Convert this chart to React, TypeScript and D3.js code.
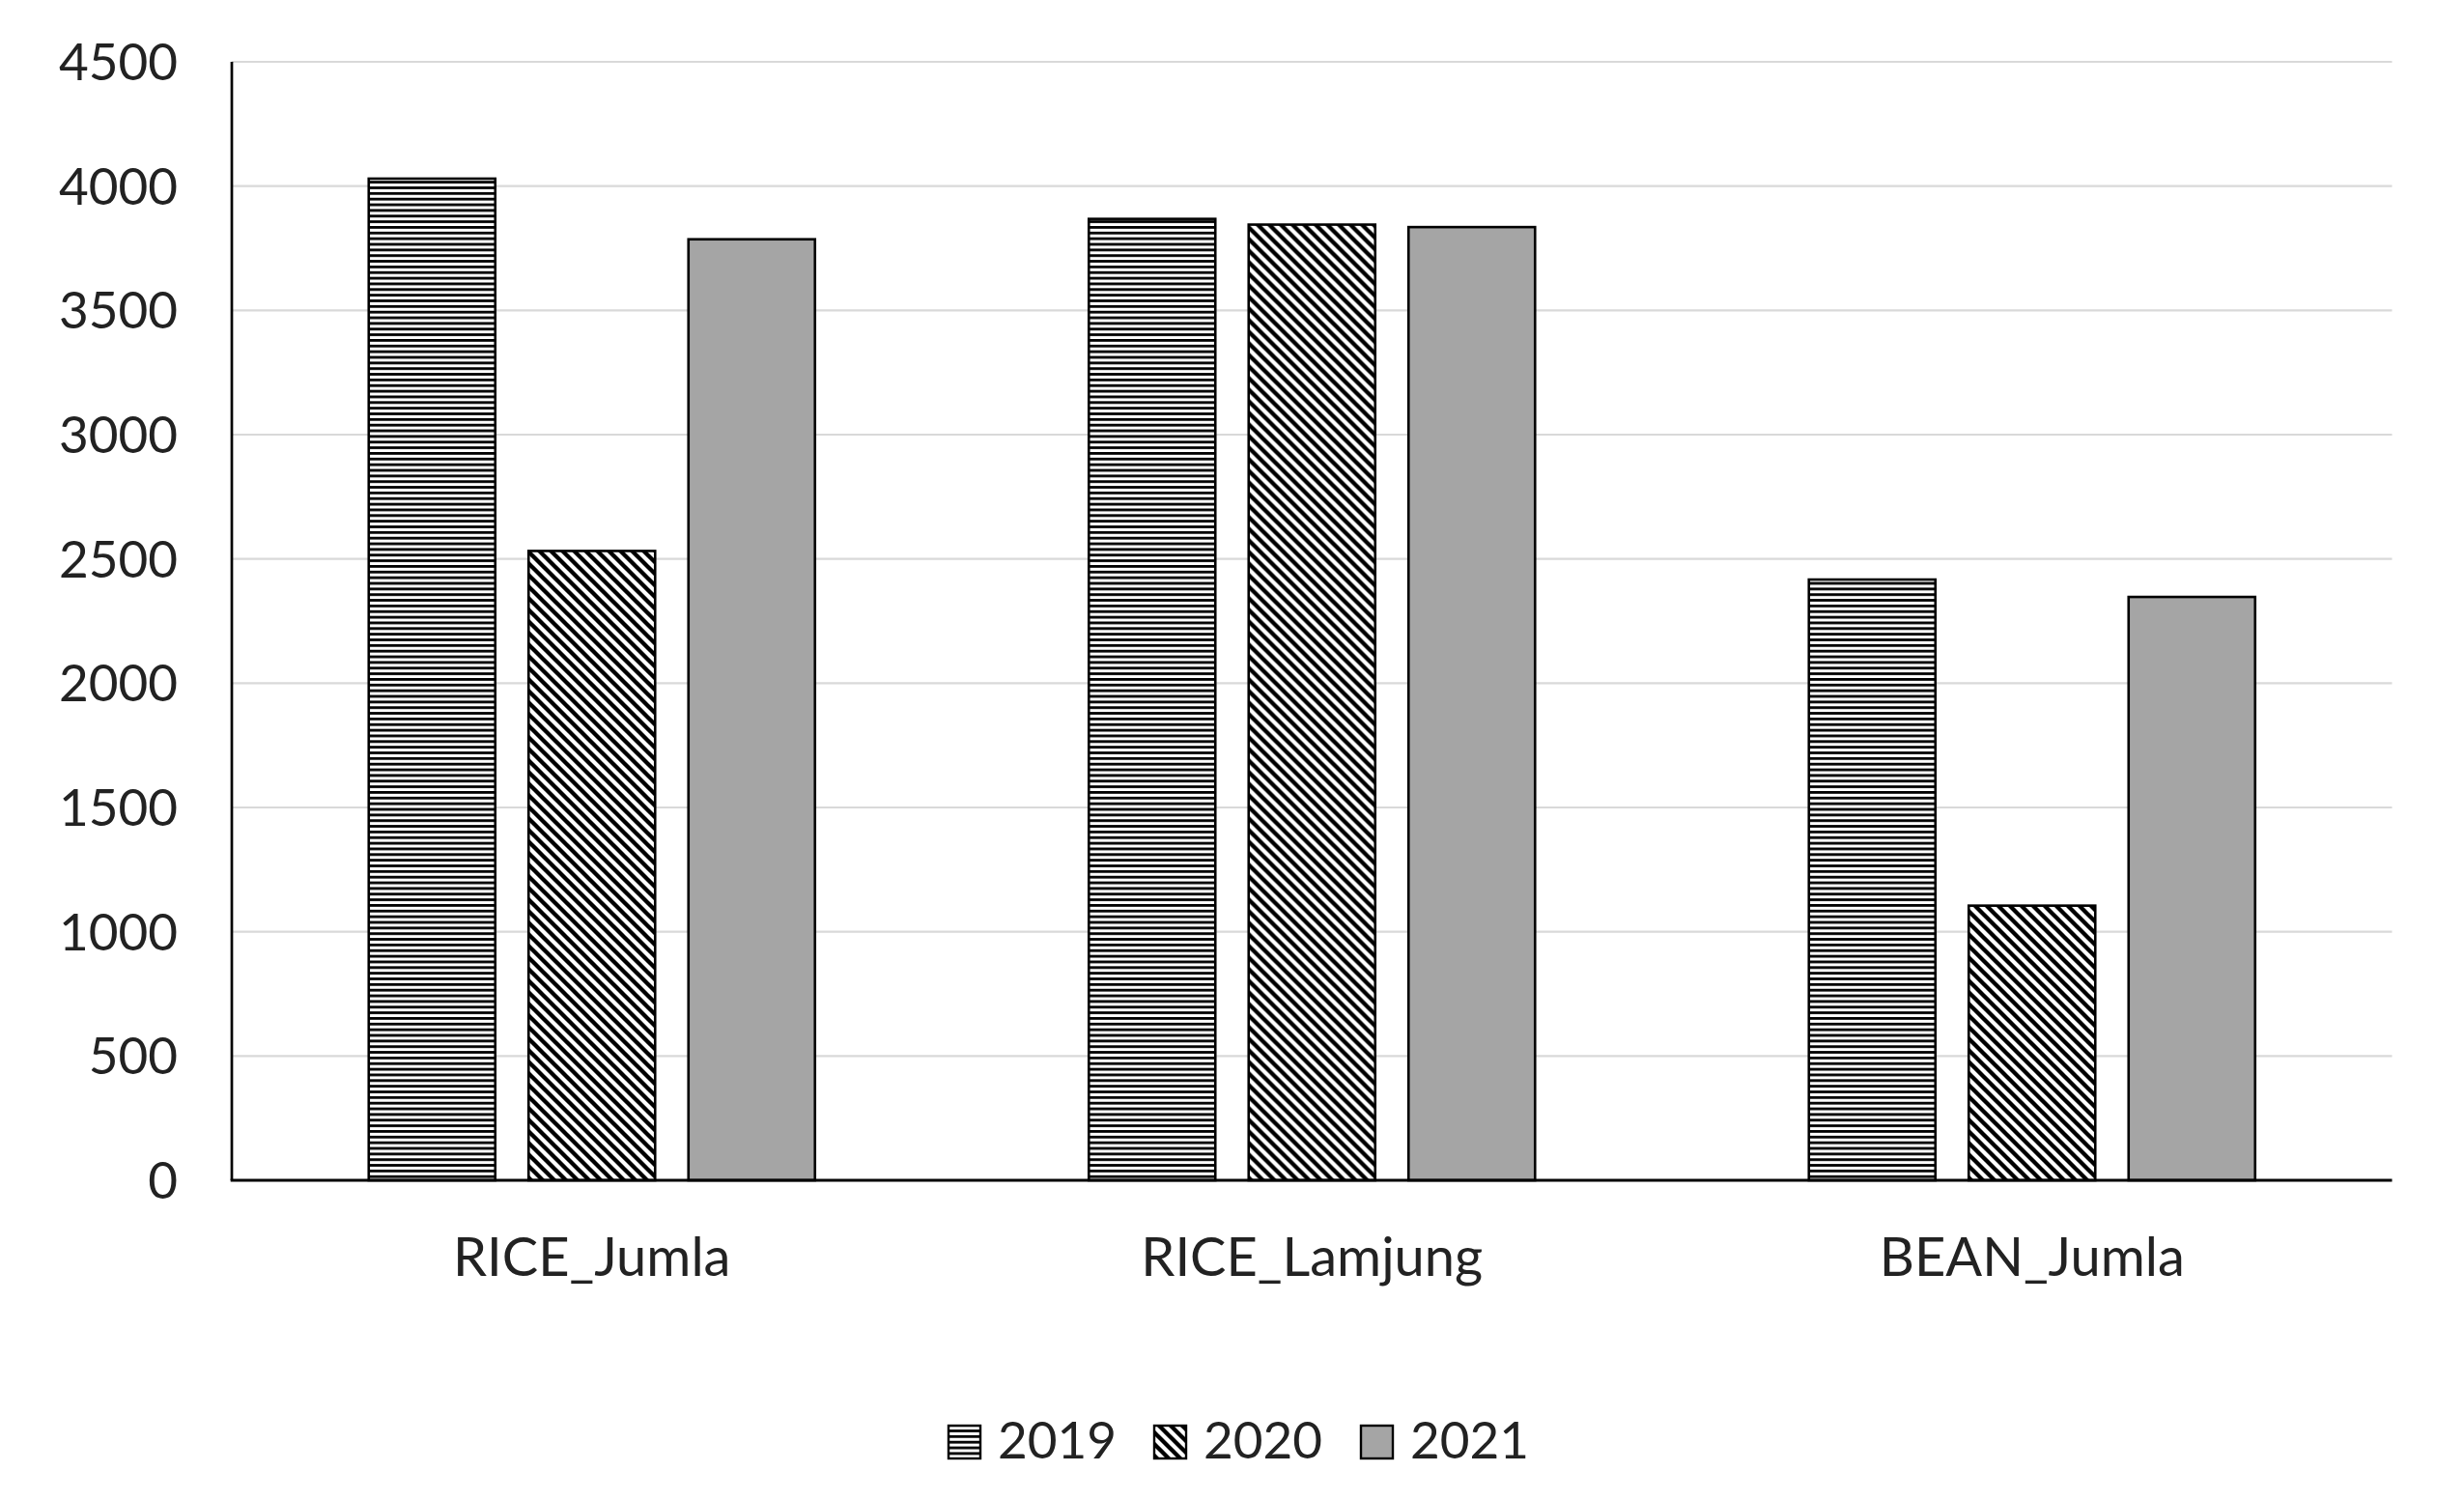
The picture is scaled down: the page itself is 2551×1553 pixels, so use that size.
import React from "react";
import * as d3 from "d3";

const categories = ["RICE_Jumla", "RICE_Lamjung", "BEAN_Jumla"];
const seriesNames = ["2019", "2020", "2021"];
const values2019 = [4030, 3868, 2417];
const values2020 = [2532, 3845, 1105];
const values2021 = [3786, 3835, 2347];
const yTicks = [0, 500, 1000, 1500, 2000, 2500, 3000, 3500, 4000, 4500];

const seriesValues = [values2019, values2020, values2021];
const seriesFill = ["url(#hstripe)", "url(#dstripe)", "#a5a5a5"];

const W = 2551;
const H = 1553;
const plotLeft = 240;
const plotRight = 2476.5;
const plotTop = 64;
const plotBottom = 1222;
const FONT = "Lato, 'Open Sans', sans-serif";
const TEXT = "#222";

export default function App() {
  const x0 = d3.scaleBand<string>().domain(categories).range([plotLeft, plotRight]).padding(0);
  const x1 = d3
    .scaleBand<string>()
    .domain(seriesNames)
    .range([0, x0.bandwidth()])
    .paddingInner(0.2085)
    .paddingOuter(0.8565);
  const y = d3.scaleLinear().domain([0, 4500]).range([plotBottom, plotTop]);

  const legendX = [982, 1195, 1409];

  return (
    <svg
      width={W}
      height={H}
      viewBox={`0 0 ${W} ${H}`}
      style={{ position: "absolute", left: 0, top: 0, display: "block", background: "#fff" }}
    >
      <defs>
        <pattern id="hstripe" patternUnits="userSpaceOnUse" width={10} height={5.85}>
          <rect x={0} y={0} width={10} height={5.85} fill="#fff" />
          <rect x={0} y={0} width={10} height={2.8} fill="#000" />
        </pattern>
        <pattern id="dstripe" patternUnits="userSpaceOnUse" width={12} height={12}>
          <rect x={0} y={0} width={12} height={12} fill="#fff" />
          <path
            d="M-3,-3 L15,15 M-3,9 L3,15 M9,-3 L15,3"
            stroke="#000"
            strokeWidth={4.3}
            fill="none"
          />
        </pattern>
      </defs>
      <rect x={0} y={0} width={W} height={H} fill="#fff" />

      {/* gridlines */}
      {yTicks.slice(1).map((t) => (
        <line
          key={`g${t}`}
          x1={plotLeft}
          x2={plotRight}
          y1={y(t)}
          y2={y(t)}
          stroke="#d9d9d9"
          strokeWidth={2.2}
        />
      ))}

      {/* y tick labels */}
      {yTicks.map((t) => (
        <text
          key={`t${t}`}
          x={184}
          y={y(t) + 19}
          textAnchor="end"
          fontFamily={FONT}
          fontSize={53}
          fill={TEXT}
        >
          {t}
        </text>
      ))}

      {/* bars */}
      {categories.map((c, ci) => (
        <g key={c} transform={`translate(${x0(c)},0)`}>
          {seriesNames.map((s, si) => {
            const v = seriesValues[si][ci];
            return (
              <rect
                key={s}
                x={x1(s)}
                y={y(v)}
                width={x1.bandwidth()}
                height={y(0) - y(v)}
                fill={seriesFill[si]}
                stroke="#000"
                strokeWidth={2.6}
              />
            );
          })}
        </g>
      ))}

      {/* axes */}
      <line x1={plotLeft} x2={plotLeft} y1={plotTop} y2={plotBottom} stroke="#000" strokeWidth={2.7} />
      <line x1={plotLeft - 1.3} x2={plotRight} y1={plotBottom} y2={plotBottom} stroke="#000" strokeWidth={2.8} />

      {/* category labels */}
      {categories.map((c) => (
        <text
          key={`c${c}`}
          x={(x0(c) as number) + x0.bandwidth() / 2}
          y={1321}
          textAnchor="middle"
          fontFamily={FONT}
          fontSize={56}
          fill={TEXT}
        >
          {c}
        </text>
      ))}

      {/* legend */}
      {seriesNames.map((s, si) => (
        <g key={`l${s}`}>
          <rect
            x={legendX[si]}
            y={1476}
            width={33}
            height={34}
            fill={seriesFill[si]}
            stroke="#000"
            strokeWidth={2.4}
          />
          <text x={legendX[si] + 51} y={1510} fontFamily={FONT} fontSize={53} fill={TEXT}>
            {s}
          </text>
        </g>
      ))}
    </svg>
  );
}
